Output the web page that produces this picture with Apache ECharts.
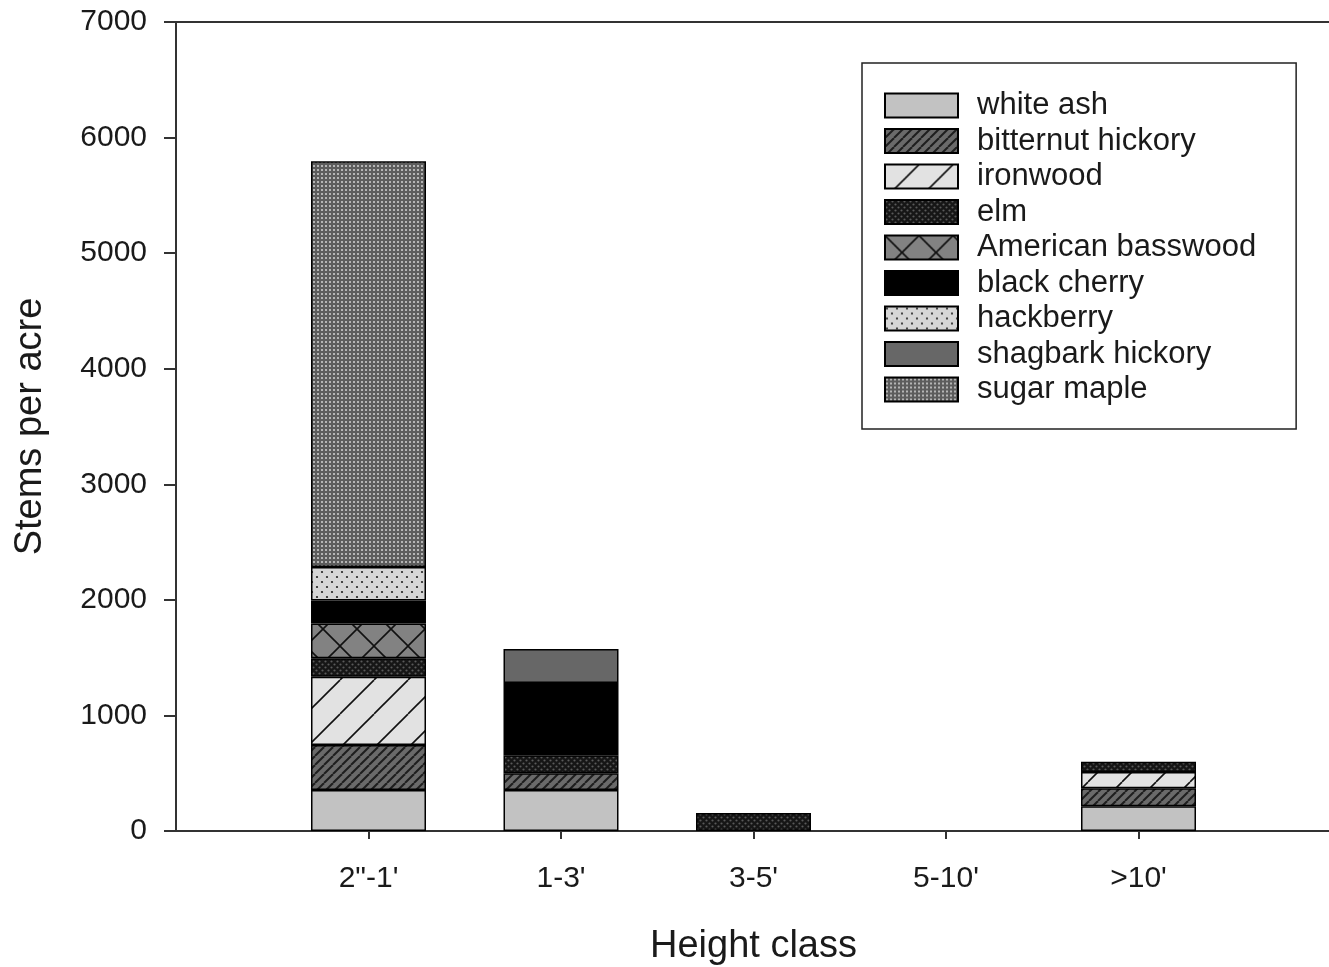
<!DOCTYPE html>
<html>
<head>
<meta charset="utf-8">
<script src="https://cdn.jsdelivr.net/npm/echarts@6/dist/echarts.min.js"></script>
<style>
html,body{margin:0;padding:0;background:#fff;}
#chart{width:1329px;height:967px;}
</style>
</head>
<body>
<div id="chart"></div>
<script>
// ---- data ----
const categories = ['2"-1\'', '1-3\'', '3-5\'', '5-10\'', '>10\''];
const yTicks = [0, 1000, 2000, 3000, 4000, 5000, 6000, 7000];
const whiteAsh        = [355, 355, 0,   0, 215];
const bitternutHickory= [390, 145, 0,   0, 155];
const ironwood        = [590, 0,   0,   0, 140];
const elm             = [160, 155, 155, 0, 90];
const americanBasswood= [300, 0,   0,   0, 0];
const blackCherry     = [200, 625, 0,   0, 0];
const hackberry       = [290, 0,   0,   0, 0];
const shagbarkHickory = [0,   295, 0,   0, 0];
const sugarMaple      = [3510, 0,  0,   0, 0];
const seriesNames = ['white ash','bitternut hickory','ironwood','elm','American basswood','black cherry','hackberry','shagbark hickory','sugar maple'];
const seriesValues = [whiteAsh, bitternutHickory, ironwood, elm, americanBasswood, blackCherry, hackberry, shagbarkHickory, sugarMaple];

// ---- fill patterns ----
function pat(w, h, draw) {
  const c = document.createElement('canvas');
  c.width = w; c.height = h;
  const g = c.getContext('2d');
  draw(g, w, h);
  return { image: c, repeat: 'repeat' };
}
function diag(g, w, h, color, lw, dir) {
  g.strokeStyle = color; g.lineWidth = lw;
  for (let k = -1; k <= 1; k++) {
    g.beginPath();
    if (dir > 0) { g.moveTo(k * w, h); g.lineTo(k * w + w, 0); }
    else { g.moveTo(k * w, 0); g.lineTo(k * w + w, h); }
    g.stroke();
  }
}
const fills = [
  '#c2c2c2',
  pat(9, 9, (g, w, h) => { g.fillStyle = '#6a6a6a'; g.fillRect(0, 0, w, h); diag(g, w, h, '#1e1e1e', 2, 1); }),
  pat(34, 34, (g, w, h) => { g.fillStyle = '#e2e2e2'; g.fillRect(0, 0, w, h); diag(g, w, h, '#111', 1.6, 1); }),
  pat(6, 6, (g, w, h) => { g.fillStyle = '#161616'; g.fillRect(0, 0, w, h); g.fillStyle = '#5a5a5a';
    g.beginPath(); g.arc(1.5, 1.5, 1.1, 0, 7); g.fill(); g.beginPath(); g.arc(4.5, 4.5, 1.1, 0, 7); g.fill(); }),
  pat(34, 34, (g, w, h) => { g.fillStyle = '#828282'; g.fillRect(0, 0, w, h); diag(g, w, h, '#111', 1.6, 1); diag(g, w, h, '#111', 1.6, -1); }),
  '#000000',
  pat(10, 10, (g, w, h) => { g.fillStyle = '#d6d6d6'; g.fillRect(0, 0, w, h); g.fillStyle = '#222';
    g.beginPath(); g.arc(2, 2, 1.1, 0, 7); g.fill(); g.beginPath(); g.arc(7, 7, 1.1, 0, 7); g.fill(); }),
  '#676767',
  pat(4, 4, (g, w, h) => { g.fillStyle = '#5c5c5c'; g.fillRect(0, 0, w, h); g.fillStyle = '#b4b4b4'; g.fillRect(1, 1, 2, 2); })
];

const axisCats = [''].concat(categories, ['']);
const pad = arr => [null].concat(arr.map(v => (v === 0 ? null : v)), [null]);
const FONT = 'Liberation Sans';

const series = seriesNames.map((name, i) => ({
  name: name,
  type: 'bar',
  stack: 'total',
  barWidth: 115,
  data: pad(seriesValues[i]),
  itemStyle: { color: fills[i], borderColor: '#000', borderWidth: 1.5 }
}));

const chart = echarts.init(document.getElementById('chart'), null, { renderer: 'canvas' });
chart.setOption({
  animation: false,
  backgroundColor: '#fff',
  textStyle: { fontFamily: FONT },
  grid: { left: 176, top: 22, width: 1155, bottom: 136, outerBoundsMode: 'none', containLabel: false,
          show: true, borderColor: '#333', borderWidth: 2, backgroundColor: 'transparent' },
  legend: {
    orient: 'vertical',
    left: 862, top: 63,
    padding: [27, 40, 24, 22],
    itemWidth: 73, itemHeight: 24, itemGap: 4.5,
    icon: 'rect',
    borderColor: '#222', borderWidth: 1.5,
    textStyle: { fontFamily: FONT, fontSize: 31, color: '#1a1a1a', padding: [0, 0, 0, 14] },
    data: seriesNames
  },
  xAxis: {
    type: 'category',
    data: axisCats,
    boundaryGap: false,
    name: 'Height class',
    nameLocation: 'middle',
    nameGap: 97,
    nameTextStyle: { fontFamily: FONT, fontSize: 38, color: '#1a1a1a' },
    axisLine: { lineStyle: { color: '#333', width: 2 } },
    axisTick: { length: 8, lineStyle: { color: '#333', width: 2 }, interval: (idx, val) => val !== '' },
    axisLabel: { interval: 0, margin: 33, fontFamily: FONT, fontSize: 30, color: '#1a1a1a' },
    splitLine: { show: false }
  },
  yAxis: {
    type: 'value',
    min: yTicks[0], max: yTicks[yTicks.length - 1], interval: yTicks[1] - yTicks[0],
    name: 'Stems per acre',
    nameLocation: 'middle',
    nameRotate: 90,
    nameGap: 126,
    nameTextStyle: { fontFamily: FONT, fontSize: 38, color: '#1a1a1a' },
    axisLine: { show: true, lineStyle: { color: '#333', width: 2 } },
    axisTick: { show: true, length: 12, lineStyle: { color: '#333', width: 2 } },
    axisLabel: { margin: 29, fontFamily: FONT, fontSize: 30, color: '#1a1a1a', formatter: v => String(v) },
    splitLine: { show: false }
  },
  series: series
});
</script>
</body>
</html>
